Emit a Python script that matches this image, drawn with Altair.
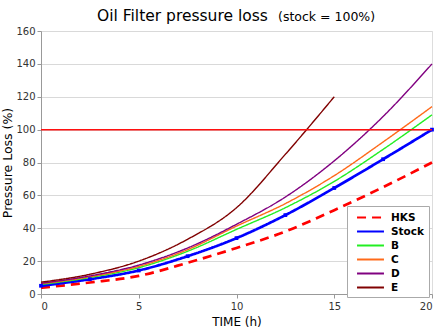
import altair as alt
import pandas as pd

hours = [0, 2.5, 5, 7.5, 10, 12.5, 15, 17.5, 20]
hours_e = [0, 2.5, 5, 7.5, 10, 12.5, 15]
hks = [3.8, 7, 11, 19, 28, 38, 51, 65, 80]
stock = [5, 9, 14.3, 23, 34, 48, 64.5, 82, 100]
b_vals = [5.8, 10, 16, 26, 39.3, 52.5, 68.5, 88, 109]
c_vals = [6.2, 10.5, 16.8, 27, 41.3, 55, 72, 92.5, 114]
d_vals = [6.5, 11, 17.6, 28, 42.4, 59, 81, 108, 140]
e_vals = [7.2, 12, 20, 33.3, 52.5, 85, 120]
limit = [100]

series_names = ["HKS", "Stock", "B", "C", "D", "E"]
series_colors = ["#ff0000", "#0000ff", "#22ee22", "#ff6a1a", "#800080", "#800000"]
series_dash = [[9, 6], [1, 0], [1, 0], [1, 0], [1, 0], [1, 0]]

rows = []
for name, xs, ys in [("HKS", hours, hks), ("Stock", hours, stock), ("B", hours, b_vals),
                     ("C", hours, c_vals), ("D", hours, d_vals), ("E", hours_e, e_vals)]:
    for x, y in zip(xs, ys):
        rows.append({"series": name, "time": x, "loss": y})
df = pd.DataFrame(rows)

FONT = "DejaVu Sans"

xscale = alt.Scale(domain=[0, 20], nice=False, zero=True)
yscale = alt.Scale(domain=[0, 160], nice=False)

xaxis = alt.Axis(title="TIME (h)", values=[0, 5, 10, 15, 20], grid=False,
                 titleFontSize=12, titleFontWeight="normal", titleFont=FONT,
                 labelFont=FONT, labelFontSize=10, labelColor="#333333",
                 titleColor="#000000", domainColor="#999999", tickColor="#999999",
                 tickSize=4, labelPadding=3, titlePadding=5, labelOverlap=False)
yaxis = alt.Axis(title="Pressure Loss (%)", values=list(range(0, 161, 20)),
                 grid=True, gridColor="#d9d9d9", titleFontSize=12.5,
                 titleFontWeight="normal", titleFont=FONT, labelFont=FONT,
                 labelFontSize=10, labelColor="#333333", titleColor="#000000",
                 domainColor="#999999", tickColor="#999999", tickSize=4,
                 labelPadding=2, titlePadding=1, labelOverlap=False)

color = alt.Color("series:N", scale=alt.Scale(domain=series_names, range=series_colors),
                  legend=alt.Legend(title=None, orient="none", legendX=306, legendY=175,
                                    symbolType="M-2.2,0L2.2,0", symbolSize=150,
                                    symbolOffset=12,
                                    labelFont=FONT, labelFontSize=10.5, labelFontWeight="bold",
                                    labelColor="#000000", labelOffset=13,
                                    fillColor="white", strokeColor="#aaaaaa", padding=4,
                                    rowPadding=1, symbolStrokeWidth=2))
dash = alt.StrokeDash("series:N", scale=alt.Scale(domain=series_names, range=series_dash))

thick = alt.Chart(df[df.series.isin(["HKS", "Stock"])]).mark_line(
    interpolate="monotone", strokeWidth=2.7
).encode(
    x=alt.X("time:Q", scale=xscale, axis=xaxis),
    y=alt.Y("loss:Q", scale=yscale, axis=yaxis),
    color=color, strokeDash=dash, order="time:Q",
)

thin = alt.Chart(df[~df.series.isin(["HKS", "Stock"])]).mark_line(
    interpolate="monotone", strokeWidth=1.4
).encode(
    x=alt.X("time:Q", scale=xscale, axis=xaxis),
    y=alt.Y("loss:Q", scale=yscale, axis=yaxis),
    color=color, strokeDash=dash, order="time:Q",
)

stock_pts = alt.Chart(df[df.series == "Stock"]).mark_point(
    shape="square", filled=True, size=14, color="#0000ff", opacity=1
).encode(x=alt.X("time:Q", scale=xscale, axis=xaxis), y=alt.Y("loss:Q", scale=yscale, axis=yaxis))

rule = alt.Chart(pd.DataFrame({"y": limit})).mark_rule(
    stroke="#ff1010", strokeWidth=1.5, strokeOpacity=1
).encode(
    y=alt.Y("y:Q", scale=yscale, axis=yaxis),
)

title1 = alt.Chart(pd.DataFrame({"t": ["Oil Filter pressure loss"]})).mark_text(
    align="left", baseline="alphabetic", fontSize=15.5, font=FONT, color="#000000"
).encode(text="t:N", x=alt.value(56), y=alt.value(-10))

title2 = alt.Chart(pd.DataFrame({"t": ["(stock = 100%)"]})).mark_text(
    align="left", baseline="alphabetic", fontSize=12.5, font=FONT, color="#000000"
).encode(text="t:N", x=alt.value(237), y=alt.value(-10))

chart = alt.layer(thick, thin, stock_pts, rule, title1, title2).properties(
    width=391, height=263,
    autosize=alt.AutoSizeParams(type="none"),
    padding={"left": 41, "top": 31, "right": 13, "bottom": 40},
).configure_view(stroke="#999999", strokeWidth=1).configure(background="white")

chart.save("out.html", embed_options={"renderer": "svg", "actions": False})
